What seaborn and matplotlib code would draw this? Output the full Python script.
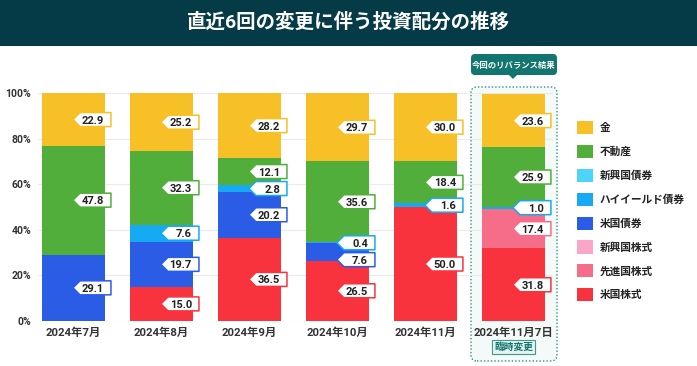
import matplotlib
matplotlib.use("Agg")
import matplotlib.pyplot as plt
import matplotlib.transforms as mtransforms
from matplotlib.patches import Polygon, FancyBboxPatch, Patch
import numpy as np
import seaborn as sns

# Data (percent of portfolio)
months = ['2024年7月', '2024年8月', '2024年9月', '2024年10月', '2024年11月', '2024年11月7日']
us_stock = [0, 15.0, 36.5, 26.5, 50.0, 31.8]
dev_stock = [0, 0, 0, 0, 0, 17.4]
em_stock = [0, 0, 0, 0, 0, 0]
us_bond = [29.1, 19.7, 20.2, 7.6, 0, 0]
hy_bond = [0, 7.6, 2.8, 0.4, 1.6, 1.0]
em_bond = [0, 0, 0, 0, 0, 0]
reit = [47.8, 32.3, 12.1, 35.6, 18.4, 25.9]
gold = [22.9, 25.2, 28.2, 29.7, 30.0, 23.6]

# stacking order bottom -> top
series = [
    ('米国株式', us_stock, '#F8333E'),
    ('先進国株式', dev_stock, '#F66D89'),
    ('新興国株式', em_stock, '#F9A6C8'),
    ('米国債券', us_bond, '#2B5CE6'),
    ('ハイイールド債券', hy_bond, '#16A9F4'),
    ('新興国債券', em_bond, '#4DD4F9'),
    ('不動産', reit, '#52AE3B'),
    ('金', gold, '#F6C026'),
]

sns.set_style('white')
plt.rcParams['font.family'] = ['Roboto', 'Noto Sans CJK JP', 'DejaVu Sans']

W, H = 697, 366
fig = plt.figure(figsize=(W / 100, H / 100), dpi=100)
fig.patch.set_facecolor('white')

def py(y):
    return H - y

ax = fig.add_axes([38 / W, 1 - 321 / H, (553 - 38) / W, (321 - 93) / H])
ax.set_facecolor('none')

BW = 0.716
bottoms = np.zeros(len(months))
for name, vals, col in series:
    sns.barplot(x=months, y=vals, bottom=bottoms, color=col, width=BW,
                linewidth=0, saturation=1, ax=ax)
    bottoms = bottoms + np.array(vals)

ax.set_xlim(-0.403, 5.45)
ax.set_ylim(0, 100)
ax.set_yticks(range(0, 101, 20))
ax.set_yticklabels([f'{v}%' for v in range(0, 101, 20)])
ax.yaxis.grid(True, color='#ebebeb', linewidth=0.8)
ax.set_axisbelow(True)
for s in ax.spines.values():
    s.set_visible(False)
ax.tick_params(axis='y', length=0, pad=5, labelsize=7.5, labelcolor='#333333')
ax.tick_params(axis='x', length=0, pad=5, labelsize=8.2, labelcolor='#333333')
for t in ax.get_yticklabels() + ax.get_xticklabels():
    t.set_fontweight('bold')
ax.set_xlabel('')
ax.set_ylabel('')

# value labels (pentagon tags at the right edge of each bar)
shape = [(-32, 0), (-25, 7), (6, 7), (6, -7), (-25, -7)]
min_gap = 7.4
for i in range(len(months)):
    items = []
    base = 0
    for name, vals, col in series:
        v = vals[i]
        if v > 0:
            items.append([base + v / 2, v, col])
        base += v
    items.sort(key=lambda it: -it[0])
    for k in range(1, len(items)):
        if items[k - 1][0] - items[k][0] < min_gap:
            items[k][0] = items[k - 1][0] - min_gap
    xr = i + BW / 2
    for ym, v, col in items:
        tr = mtransforms.ScaledTranslation(xr, ym, ax.transData)
        ax.add_patch(Polygon(shape, closed=True, transform=tr, facecolor='white',
                             edgecolor=col, linewidth=1.1, joinstyle='round',
                             zorder=5, clip_on=False))
        ax.text(-1, 0, f'{v:.1f}', transform=tr, ha='right', va='center_baseline',
                fontsize=8, fontweight='bold', color='#222222', zorder=6, clip_on=False)

# title bar
fig.patches.append(FancyBboxPatch((0, py(46)), W, 46, boxstyle='square,pad=0',
                                  transform=None, facecolor='#053A47', edgecolor='none', zorder=3))
fig.text(0.5, 1 - 22 / H, '直近6回の変更に伴う投資配分の推移', ha='center', va='center',
         fontsize=14, fontweight='bold', color='white', zorder=4)

# frame around latest rebalance
fig.patches.append(FancyBboxPatch((471, py(361)), 86, 274, boxstyle='round,pad=0,rounding_size=6',
                                  transform=None, facecolor='#F3FAF8', edgecolor='#2F8F86',
                                  linewidth=1, linestyle=(0, (1, 1.5)), zorder=-1))
fig.patches.append(FancyBboxPatch((471, py(75)), 86, 21, boxstyle='round,pad=0,rounding_size=4',
                                  transform=None, facecolor='#12756F', edgecolor='none', zorder=3))
fig.patches.append(Polygon([(509, py(75)), (517, py(75)), (513, py(79))], closed=True,
                           transform=None, facecolor='#12756F', edgecolor='none', zorder=3))
fig.text(514 / W, 1 - 64.5 / H, '今回のリバランス結果', ha='center', va='center',
         fontsize=6, fontweight='bold', color='white', zorder=4)
fig.text(513.5 / W, 1 - 347 / H, '臨時変更', ha='center', va='center', fontsize=7,
         fontweight='bold', color='#12756F', zorder=4,
         bbox=dict(boxstyle='square,pad=0.22', facecolor='#E6F4F1', edgecolor='#3E9A90', linewidth=0.8))

# legend (top -> bottom)
handles = [Patch(facecolor=col, edgecolor='none', label=name) for name, vals, col in series[::-1]]
leg = fig.legend(handles=handles, loc='upper left', bbox_to_anchor=(577 / W, 1 - 121 / H),
                 frameon=False, fontsize=7.7, handlelength=1.52, handleheight=1.52,
                 labelspacing=1.0, handletextpad=0.62, borderpad=0, borderaxespad=0)
for t in leg.get_texts():
    t.set_fontweight('bold')
    t.set_color('#222222')

fig.savefig('out.png', dpi=100)
